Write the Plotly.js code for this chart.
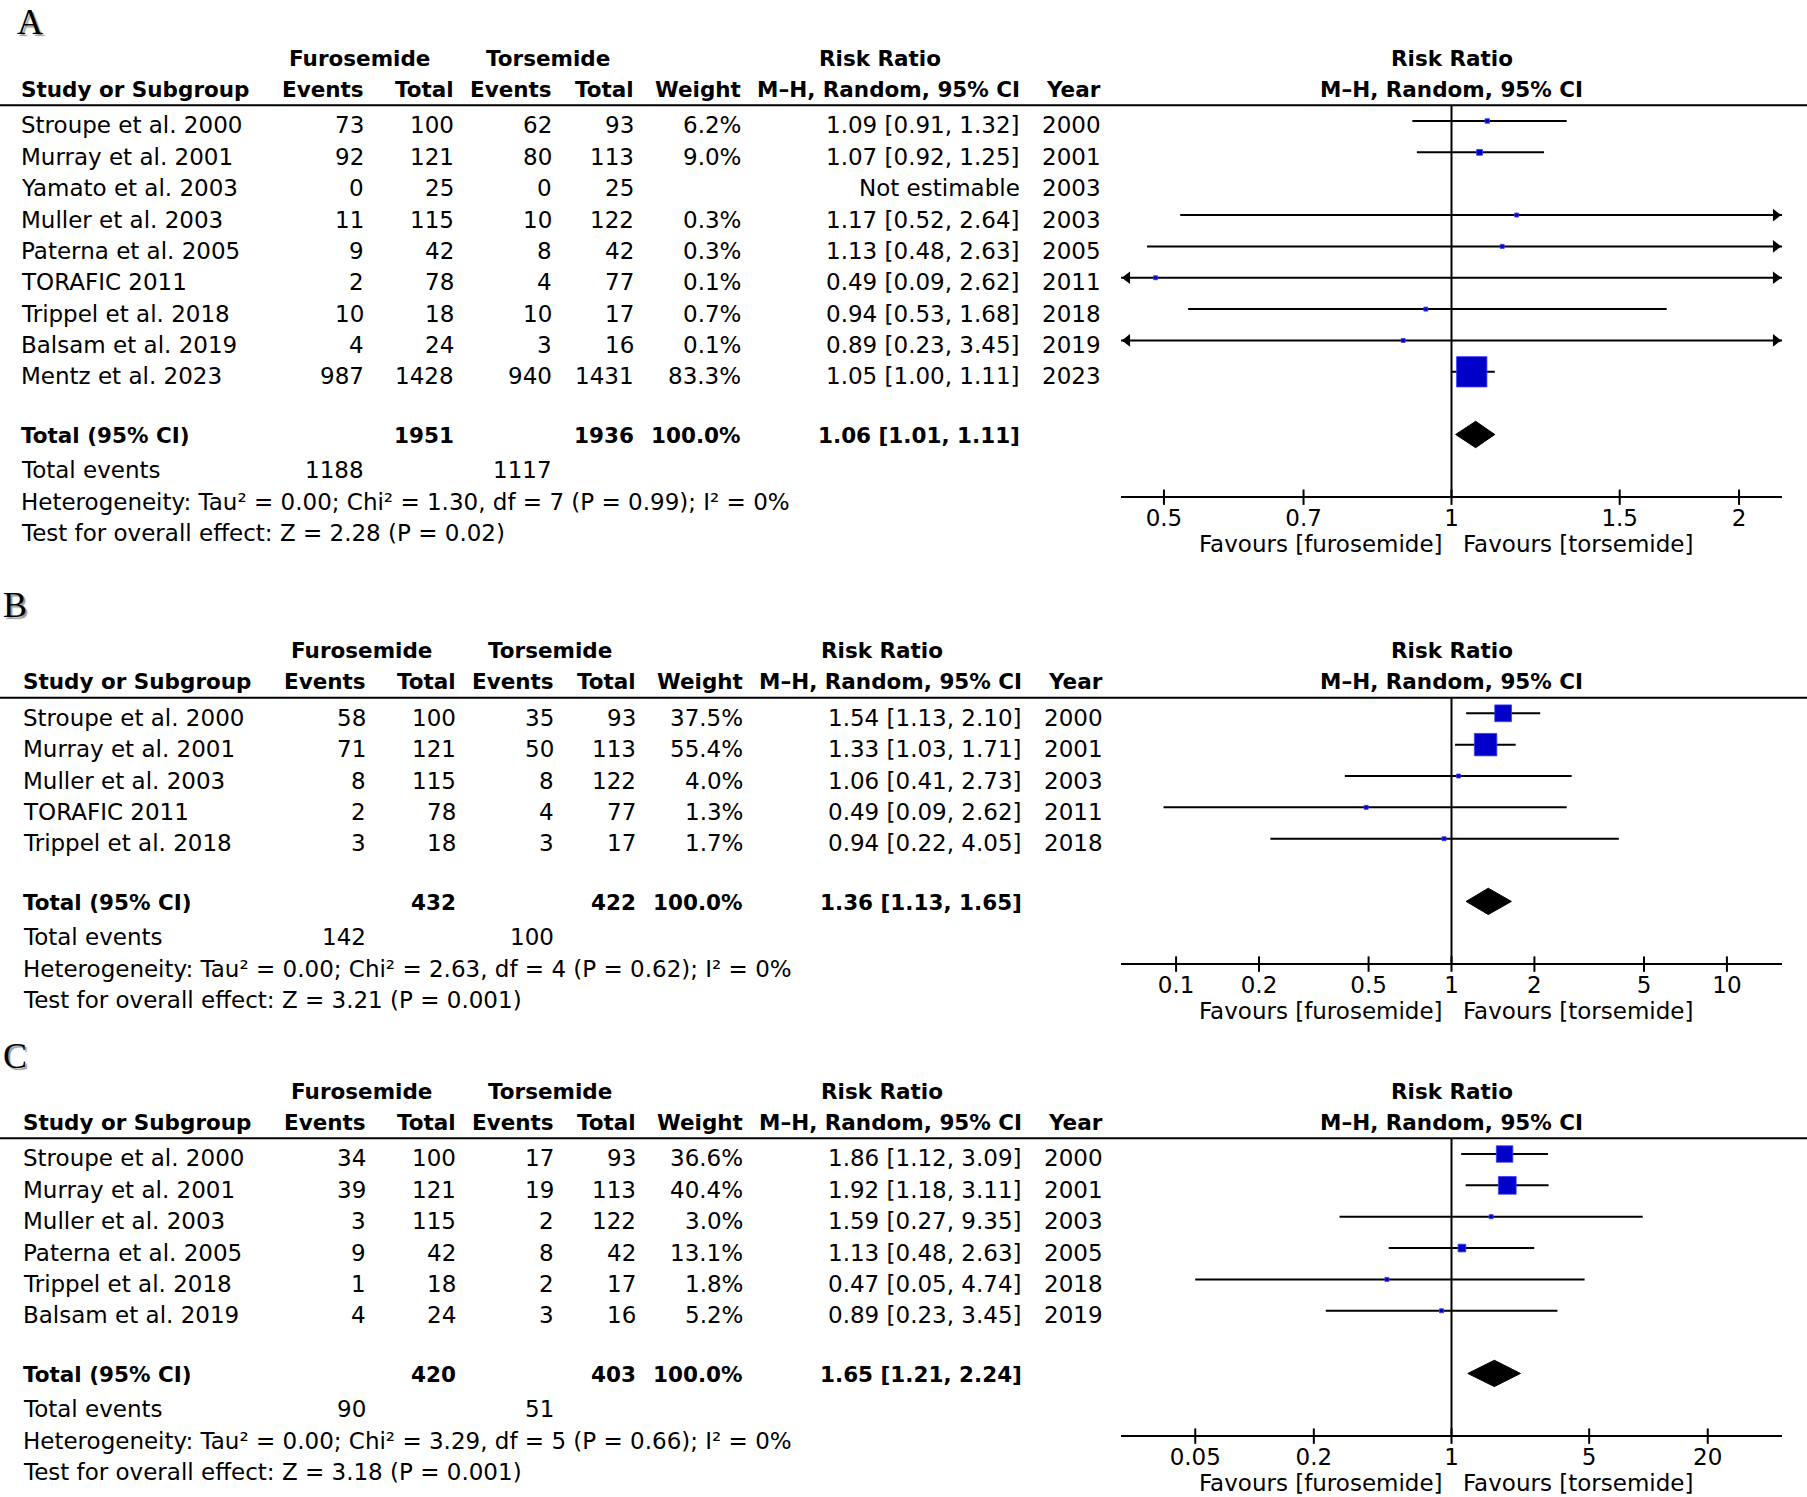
<!DOCTYPE html>
<html>
<head>
<meta charset="utf-8">
<script src="https://cdn.plot.ly/plotly-3.0.1.min.js"></script>
<style>
html,body{margin:0;padding:0;background:#fff;}
#chart{width:1807px;height:1497px;}
</style>
</head>
<body>
<div id="chart"></div>
<script>
// ================= DATA =================
// Panel A
const studiesA   = ["Stroupe et al. 2000","Murray et al. 2001","Yamato et al. 2003","Muller et al. 2003","Paterna et al. 2005","TORAFIC 2011","Trippel et al. 2018","Balsam et al. 2019","Mentz et al. 2023"];
const furEventsA = [73, 92, 0, 11, 9, 2, 10, 4, 987];
const furTotalA  = [100, 121, 25, 115, 42, 78, 18, 24, 1428];
const torEventsA = [62, 80, 0, 10, 8, 4, 10, 3, 940];
const torTotalA  = [93, 113, 25, 122, 42, 77, 17, 16, 1431];
const weightA    = [6.2, 9.0, null, 0.3, 0.3, 0.1, 0.7, 0.1, 83.3];
const rrA        = [1.09, 1.07, null, 1.17, 1.13, 0.49, 0.94, 0.89, 1.05];
const loA        = [0.91, 0.92, null, 0.52, 0.48, 0.09, 0.53, 0.23, 1.00];
const hiA        = [1.32, 1.25, null, 2.64, 2.63, 2.62, 1.68, 3.45, 1.11];
const yearA      = [2000, 2001, 2003, 2003, 2005, 2011, 2018, 2019, 2023];
const totalsA    = [1951, 1936];
const pooledA    = [1.06, 1.01, 1.11];
const totEventsA = [1188, 1117];
const hetA       = "Heterogeneity: Tau² = 0.00; Chi² = 1.30, df = 7 (P = 0.99); I² = 0%";
const testA      = "Test for overall effect: Z = 2.28 (P = 0.02)";
const ticksA     = [0.5, 0.7, 1, 1.5, 2];

// Panel B
const studiesB   = ["Stroupe et al. 2000","Murray et al. 2001","Muller et al. 2003","TORAFIC 2011","Trippel et al. 2018"];
const furEventsB = [58, 71, 8, 2, 3];
const furTotalB  = [100, 121, 115, 78, 18];
const torEventsB = [35, 50, 8, 4, 3];
const torTotalB  = [93, 113, 122, 77, 17];
const weightB    = [37.5, 55.4, 4.0, 1.3, 1.7];
const rrB        = [1.54, 1.33, 1.06, 0.49, 0.94];
const loB        = [1.13, 1.03, 0.41, 0.09, 0.22];
const hiB        = [2.10, 1.71, 2.73, 2.62, 4.05];
const yearB      = [2000, 2001, 2003, 2011, 2018];
const totalsB    = [432, 422];
const pooledB    = [1.36, 1.13, 1.65];
const totEventsB = [142, 100];
const hetB       = "Heterogeneity: Tau² = 0.00; Chi² = 2.63, df = 4 (P = 0.62); I² = 0%";
const testB      = "Test for overall effect: Z = 3.21 (P = 0.001)";
const ticksB     = [0.1, 0.2, 0.5, 1, 2, 5, 10];

// Panel C
const studiesC   = ["Stroupe et al. 2000","Murray et al. 2001","Muller et al. 2003","Paterna et al. 2005","Trippel et al. 2018","Balsam et al. 2019"];
const furEventsC = [34, 39, 3, 9, 1, 4];
const furTotalC  = [100, 121, 115, 42, 18, 24];
const torEventsC = [17, 19, 2, 8, 2, 3];
const torTotalC  = [93, 113, 122, 42, 17, 16];
const weightC    = [36.6, 40.4, 3.0, 13.1, 1.8, 5.2];
const rrC        = [1.86, 1.92, 1.59, 1.13, 0.47, 0.89];
const loC        = [1.12, 1.18, 0.27, 0.48, 0.05, 0.23];
const hiC        = [3.09, 3.11, 9.35, 2.63, 4.74, 3.45];
const yearC      = [2000, 2001, 2003, 2005, 2018, 2019];
const totalsC    = [420, 403];
const pooledC    = [1.65, 1.21, 2.24];
const totEventsC = [90, 51];
const hetC       = "Heterogeneity: Tau² = 0.00; Chi² = 3.29, df = 5 (P = 0.66); I² = 0%";
const testC      = "Test for overall effect: Z = 3.18 (P = 0.001)";
const ticksC     = [0.05, 0.2, 1, 5, 20];

const groupHeaders = ["Furosemide", "Torsemide", "Risk Ratio"];
const colHeaders   = ["Study or Subgroup", "Events", "Total", "Events", "Total", "Weight", "M–H, Random, 95% CI", "Year"];
const favours      = ["Favours [furosemide]", "Favours [torsemide]"];

// ================= LAYOUT / STYLE =================
const W = 1807, H = 1497;
const FONT = "DejaVu Sans, Verdana, sans-serif";
const FS = 23, FSB = 21.5;
const ROWH = 31.35;
const X0 = 1121, X1 = 1782;       // forest plot horizontal extent (px)
const XC = (X0 + X1) / 2;
const COL = {study:19.5, furEv:365, furTot:455, torEv:553, torTot:635, weight:742, rr:1021, year:1102,
             furHdr:359.5, torHdr:547.5, rrHdr:880};
const SHIFT = {regular:-4.5, header:0, total:-1};

const panels = [
  {label:"A", studies:studiesA, furEv:furEventsA, furTot:furTotalA, torEv:torEventsA, torTot:torTotalA,
   w:weightA, rr:rrA, lo:loA, hi:hiA, year:yearA, totals:totalsA, pooled:pooledA, totEv:totEventsA,
   het:hetA, test:testA, ticks:ticksA, P0:121, dx:0, L:0.346, lab:[30,0,"top"]},
  {label:"B", studies:studiesB, furEv:furEventsB, furTot:furTotalB, torEv:torEventsB, torTot:torTotalB,
   w:weightB, rr:rrB, lo:loB, hi:hiB, year:yearB, totals:totalsB, pooled:pooledB, totEv:totEventsB,
   het:hetB, test:testB, ticks:ticksB, P0:713.3, dx:2, L:1.2, lab:[15,605,"middle"]},
  {label:"C", studies:studiesC, furEv:furEventsC, furTot:furTotalC, torEv:torEventsC, torTot:torTotalC,
   w:weightC, rr:rrC, lo:loC, hi:hiC, year:yearC, totals:totalsC, pooled:pooledC, totEv:totEventsC,
   het:hetC, test:testC, ticks:ticksC, P0:1154, dx:2, L:1.678, lab:[15,1056,"middle"]}
];

const traces = [], annotations = [], shapes = [];
const layout = {
  width: W, height: H,
  margin: {l:0, r:0, t:0, b:0},
  paper_bgcolor: "#ffffff", plot_bgcolor: "rgba(0,0,0,0)",
  showlegend: false,
  font: {family: FONT, size: FS, color: "#000"},
  hovermode: false
};

const fmt2 = v => v.toFixed(2);
const ciText = (r, l, h) => fmt2(r) + " [" + fmt2(l) + ", " + fmt2(h) + "]";

panels.forEach((p, k) => {
  const sfx = k === 0 ? "" : String(k + 1);
  const xa = "x" + sfx, ya = "y" + sfx;
  const n = p.studies.length;
  const top = -3.6, bot = n + 4.85;
  const pyTop = p.P0 + top * ROWH, pyBot = p.P0 + bot * ROWH;
  const axisRow = n + 3;
  const totRow = n + 1;

  layout["yaxis" + sfx] = {
    domain: [1 - pyBot / H, 1 - pyTop / H], range: [bot, top],
    visible: false, showgrid: false, zeroline: false, fixedrange: true
  };
  layout["xaxis" + sfx] = {
    type: "log", range: [-p.L, p.L], domain: [X0 / W, X1 / W],
    anchor: "free", position: 1 - (p.P0 + axisRow * ROWH) / H,
    showline: true, linecolor: "#000", linewidth: 2,
    ticks: "", tickvals: p.ticks, ticktext: p.ticks.map(String),
    tickfont: {family: FONT, size: FS, color: "#000"},
    ticklabelstandoff: 0,
    showgrid: false, zeroline: false, fixedrange: true
  };

  // vertical line of no effect
  shapes.push({type:"line", xref:xa, yref:ya, x0:1, x1:1, y0:-0.5, y1:axisRow,
               line:{color:"#000", width:2}, layer:"below"});
  // header separator
  shapes.push({type:"line", xref:"paper", yref:ya, x0:0, x1:1, y0:-0.5, y1:-0.5,
               line:{color:"#000", width:2}});

  // CI lines
  const cx = [], cy = [];
  p.rr.forEach((v, i) => { if (v == null) return; cx.push(p.lo[i], p.hi[i], null); cy.push(i, i, null); });
  traces.push({type:"scatter", mode:"lines", x:cx, y:cy, xaxis:xa, yaxis:ya,
               line:{color:"#000", width:2}, hoverinfo:"skip"});

  // arrows for CIs that run beyond the axis
  const pxPerLog = (X1 - X0) / (2 * p.L);
  const off = 6.3 / pxPerLog;
  const ax = [], ay = [], asym = [];
  p.rr.forEach((v, i) => {
    if (v == null) return;
    if (p.hi[i] > Math.pow(10, p.L)) { ax.push(Math.pow(10, p.L - off)); ay.push(i); asym.push("triangle-right"); }
    if (p.lo[i] < Math.pow(10, -p.L)) { ax.push(Math.pow(10, -p.L + off)); ay.push(i); asym.push("triangle-left"); }
  });
  if (ax.length) traces.push({type:"scatter", mode:"markers", x:ax, y:ay, xaxis:xa, yaxis:ya,
               marker:{symbol:asym, size:11, color:"#000", opacity:1}, cliponaxis:false, hoverinfo:"skip"});

  // squares
  const sx = [], sy = [], ss = [];
  p.rr.forEach((v, i) => { if (v == null) return; sx.push(v); sy.push(i); ss.push(Math.max(4, 1.15 * Math.pow(p.w[i], 0.74))); });
  traces.push({type:"scatter", mode:"markers", x:sx, y:sy, xaxis:xa, yaxis:ya,
               marker:{symbol:"square", size:ss, color:"#0000c8", opacity:1, line:{color:"#3c3cff", width:0.8}},
               cliponaxis:false, hoverinfo:"skip"});

  // pooled diamond
  const [pr, pl, ph] = p.pooled;
  const dh = 0.42;
  traces.push({type:"scatter", mode:"lines", x:[pl, pr, ph, pr, pl], y:[totRow, totRow - dh, totRow, totRow + dh, totRow],
               xaxis:xa, yaxis:ya, fill:"toself", fillcolor:"#000", line:{color:"#000", width:1}, hoverinfo:"skip"});

  // tick marks crossing the axis line
  traces.push({type:"scatter", mode:"markers", x:p.ticks, y:p.ticks.map(() => axisRow), xaxis:xa, yaxis:ya,
               marker:{symbol:"line-ns", size:11, color:"#000", opacity:1, line:{color:"#000", width:2}},
               cliponaxis:false, hoverinfo:"skip"});

  // ---------- text ----------
  const T = (x, row, text, anchor, kind, shiftTable) => {
    const bold = kind === "header" || kind === "total";
    annotations.push({xref:"paper", yref:ya, x:(x + (shiftTable === false ? 0 : p.dx)) / W, y:row,
      text:String(text), showarrow:false, xanchor:anchor, yanchor:"middle", yshift:SHIFT[kind], borderpad:0,
      font:{family:FONT, size:bold ? FSB : FS, color:"#000", weight:bold ? 700 : 400}});
  };

  // group header row
  T(COL.furHdr, -2, groupHeaders[0], "center", "header");
  T(COL.torHdr, -2, groupHeaders[1], "center", "header");
  T(COL.rrHdr, -2, groupHeaders[2], "center", "header");
  T(XC, -2, groupHeaders[2], "center", "header", false);
  // column header row
  T(COL.study, -1, colHeaders[0], "left", "header");
  T(COL.furEv, -1, colHeaders[1], "right", "header");
  T(COL.furTot, -1, colHeaders[2], "right", "header");
  T(COL.torEv, -1, colHeaders[3], "right", "header");
  T(COL.torTot, -1, colHeaders[4], "right", "header");
  T(COL.weight, -1, colHeaders[5], "right", "header");
  T(COL.rr, -1, colHeaders[6], "right", "header");
  T(COL.year, -1, colHeaders[7], "right", "header");
  T(XC, -1, colHeaders[6], "center", "header", false);

  // study rows
  p.studies.forEach((s, i) => {
    T(COL.study, i, s, "left", "regular");
    T(COL.furEv, i, p.furEv[i], "right", "regular");
    T(COL.furTot, i, p.furTot[i], "right", "regular");
    T(COL.torEv, i, p.torEv[i], "right", "regular");
    T(COL.torTot, i, p.torTot[i], "right", "regular");
    if (p.w[i] != null) T(COL.weight, i, p.w[i].toFixed(1) + "%", "right", "regular");
    T(COL.rr, i, p.rr[i] == null ? "Not estimable" : ciText(p.rr[i], p.lo[i], p.hi[i]), "right", "regular");
    T(COL.year, i, p.year[i], "right", "regular");
  });

  // total row
  T(COL.study, totRow, "Total (95% CI)", "left", "total");
  T(COL.furTot, totRow, p.totals[0], "right", "total");
  T(COL.torTot, totRow, p.totals[1], "right", "total");
  T(COL.weight, totRow, "100.0%", "right", "total");
  T(COL.rr, totRow, ciText(pr, pl, ph), "right", "total");
  // summary rows
  T(COL.study, n + 2, "Total events", "left", "regular");
  T(COL.furEv, n + 2, p.totEv[0], "right", "regular");
  T(COL.torEv, n + 2, p.totEv[1], "right", "regular");
  T(COL.study, n + 3, p.het, "left", "regular");
  T(COL.study, n + 4, p.test, "left", "regular");

  // favours labels (kept inside the page bottom)
  const favPx = Math.min(p.P0 + (n + 4.36) * ROWH, 1485.5);
  const favRow = (favPx - p.P0) / ROWH;
  T(XC - 8, favRow, favours[0], "right", "regular", false);
  T(XC + 10, favRow, favours[1], "left", "regular", false);

  // panel letter
  annotations.push({xref:"paper", yref:"paper", x:p.lab[0] / W, y:1 - p.lab[1] / H, text:p.label,
    showarrow:false, xanchor:"center", yanchor:p.lab[2],
    font:{family:"Liberation Serif, DejaVu Serif, serif", size:36, color:"#000", shadow:"2px 2px 1px #999"}});
});

layout.annotations = annotations;
layout.shapes = shapes;

Plotly.newPlot("chart", traces, layout, {staticPlot:true, displayModeBar:false});
</script>
</body>
</html>
